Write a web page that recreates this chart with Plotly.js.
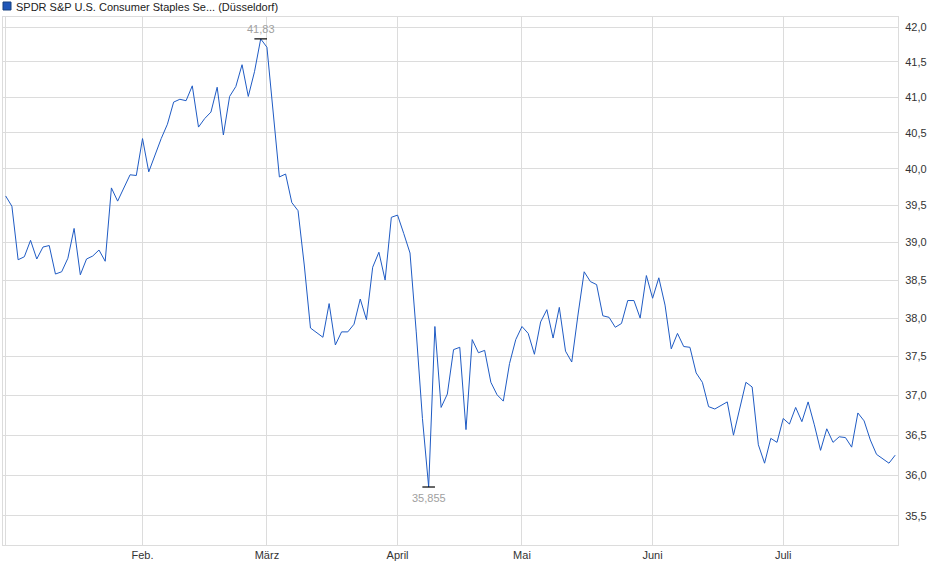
<!DOCTYPE html>
<html>
<head>
<meta charset="utf-8">
<script src="https://cdn.plot.ly/plotly-3.0.1.min.js"></script>
<style>
  html, body { margin: 0; padding: 0; background: #ffffff; }
  #chart { width: 940px; height: 579px; }
</style>
</head>
<body>
<div id="chart"></div>
<script>
// Closing prices (trading days, Jan 2 - Jul 24)
const prices = [
  39.63, 39.49, 38.77, 38.81, 39.03, 38.78, 38.94, 38.96, 38.58, 38.61,
  38.79, 39.19, 38.57, 38.78, 38.82, 38.90, 38.75, 39.74, 39.56, 39.73,
  39.92, 39.91, 40.42, 39.96, 40.19, 40.42, 40.62, 40.93, 40.97, 40.95,
  41.16, 40.58, 40.70, 40.79, 41.14, 40.47, 41.01, 41.15, 41.46, 41.01,
  41.36, 41.83, 41.71, 40.80, 39.89, 39.93, 39.54, 39.43, 38.70, 37.87,
  37.81, 37.75, 38.19, 37.65, 37.82, 37.82, 37.92, 38.25, 37.98, 38.67,
  38.87, 38.50, 39.34, 39.37, 39.12, 38.86, 37.82, 36.71, 35.855, 37.89,
  36.85, 37.02, 37.59, 37.62, 36.57, 37.72, 37.55, 37.58, 37.17, 37.01,
  36.93, 37.41, 37.72, 37.89, 37.80, 37.53, 37.95, 38.11, 37.74, 38.14,
  37.57, 37.43, 38.04, 38.61, 38.48, 38.44, 38.03, 38.01, 37.88, 37.93,
  38.23, 38.23, 38.00, 38.56, 38.26, 38.53, 38.17, 37.60, 37.80, 37.63,
  37.62, 37.29, 37.17, 36.86, 36.83, 36.87, 36.92, 36.50, 36.84, 37.17,
  37.11, 36.38, 36.15, 36.46, 36.41, 36.71, 36.64, 36.85, 36.67, 36.92,
  36.63, 36.31, 36.58, 36.41, 36.48, 36.47, 36.35, 36.78, 36.68, 36.44,
  36.26, 36.21, 36.15, 36.25
];
// First trading day of each month (index into prices) and month labels
const monthStartIdx = [0, 22, 42, 63, 83, 104, 125];
const monthLabels = ['', 'Feb.', 'März', 'April', 'Mai', 'Juni', 'Juli'];
// Price axis ticks
const priceTicks = [35.5, 36.0, 36.5, 37.0, 37.5, 38.0, 38.5, 39.0, 39.5, 40.0, 40.5, 41.0, 41.5, 42.0];
const seriesName = 'SPDR S&P U.S. Consumer Staples Se... (Düsseldorf)';

const idx = prices.map((_, i) => i);
let maxI = 0, minI = 0;
prices.forEach((v, i) => { if (v > prices[maxI]) maxI = i; if (v < prices[minI]) minI = i; });
const fmt = v => String(v).replace('.', ',');

const FONT = 'Liberation Sans, Arial, sans-serif';
const GRID = '#dcdcdc';
const LINE = '#1f5bc4';

const traces = [
  {
    x: idx, y: prices, type: 'scatter', mode: 'lines',
    line: { color: LINE, width: 1 }, hoverinfo: 'skip', showlegend: false
  },
  {
    x: [maxI, minI], y: [prices[maxI], prices[minI]], type: 'scatter', mode: 'markers',
    marker: { symbol: 'line-ew', size: 9, color: '#000', line: { color: '#000', width: 1.2 } },
    hoverinfo: 'skip', showlegend: false
  }
];

const layout = {
  width: 940, height: 579,
  margin: { l: 3, r: 42, t: 17, b: 34 },
  paper_bgcolor: '#ffffff', plot_bgcolor: '#ffffff',
  separators: ',.',
  font: { family: FONT, size: 11, color: '#333333' },
  showlegend: false,
  xaxis: {
    type: 'linear',
    range: [-0.43, prices.length - 0.55],
    tickmode: 'array', tickvals: monthStartIdx, ticktext: monthLabels,
    showgrid: true, gridcolor: GRID, gridwidth: 1,
    zeroline: false, showline: true, linecolor: GRID, linewidth: 1, mirror: true,
    ticks: '', tickfont: { family: FONT, size: 11, color: '#333333' },
    fixedrange: true
  },
  yaxis: {
    type: 'log', side: 'right',
    range: [Math.log10(35.147), Math.log10(42.146)],
    tickmode: 'array', tickvals: priceTicks,
    ticktext: priceTicks.map(v => v.toFixed(1).replace('.', ',')),
    showgrid: true, gridcolor: GRID, gridwidth: 1,
    zeroline: false, showline: true, linecolor: GRID, linewidth: 1, mirror: true,
    ticks: '', ticklabelstandoff: 4,
    tickfont: { family: FONT, size: 11, color: '#333333' },
    fixedrange: true
  },
  shapes: [
    {
      type: 'rect', xref: 'paper', yref: 'paper',
      xsizemode: 'pixel', ysizemode: 'pixel', xanchor: 0, yanchor: 1,
      x0: 0, x1: 8, y0: 7, y1: 15,
      fillcolor: '#1f56b8', line: { color: '#17407f', width: 1 }
    }
  ],
  annotations: [
    {
      xref: 'paper', yref: 'paper', x: 0, y: 1, xanchor: 'left', yanchor: 'bottom',
      xshift: 11, yshift: 2, showarrow: false, text: seriesName,
      font: { family: FONT, size: 11, color: '#222222' }
    },
    {
      x: maxI, y: Math.log10(prices[maxI]), xref: 'x', yref: 'y',
      yanchor: 'bottom', yshift: 2, showarrow: false, text: fmt(prices[maxI]),
      font: { family: FONT, size: 11, color: '#a0a0a0' }
    },
    {
      x: minI, y: Math.log10(prices[minI]), xref: 'x', yref: 'y',
      yanchor: 'top', yshift: -3, showarrow: false, text: fmt(prices[minI]),
      font: { family: FONT, size: 11, color: '#a0a0a0' }
    }
  ]
};

Plotly.newPlot('chart', traces, layout, { displayModeBar: false, staticPlot: true });
</script>
</body>
</html>
